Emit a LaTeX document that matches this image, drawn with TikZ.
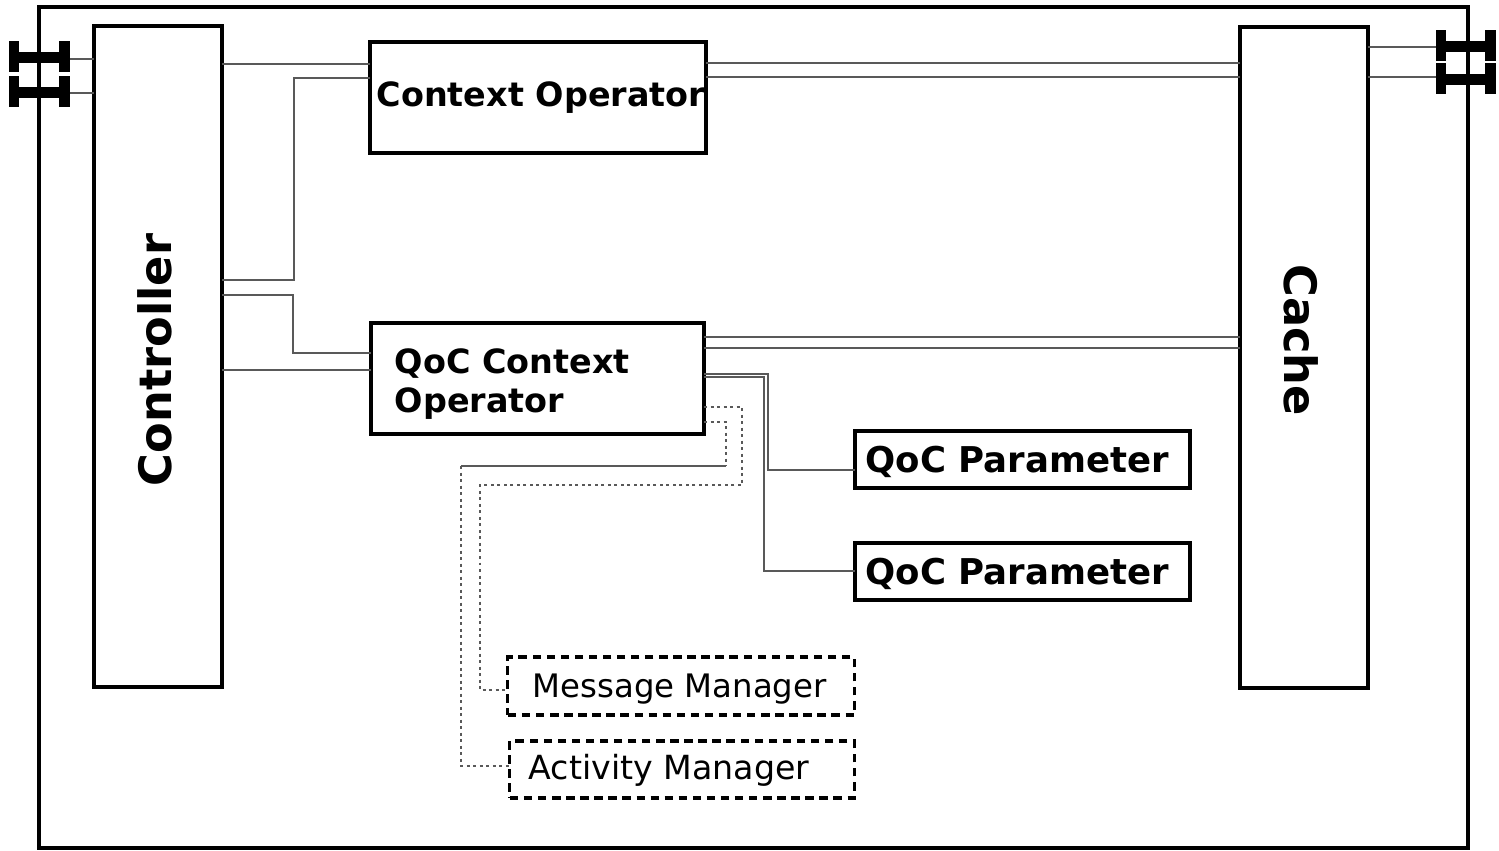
\documentclass[tikz,border=0pt]{standalone}
\usepackage{fontspec}
\setmainfont{DejaVu Sans}
\tikzset{
    box/.style={draw=black,line width=1pt,inner sep=0pt,outer sep=0pt},
    dashbox/.style={box,line width=0.9pt,dash pattern=on 2.4pt off 1.6pt},
    boldlabel/.style={font=\fontsize{9.5}{11.2}\selectfont\bfseries,inner sep=0pt},
    paramlabel/.style={font=\fontsize{10.1}{11.2}\selectfont\bfseries,inner sep=0pt},
    biglabel/.style={font=\fontsize{12.7}{14}\selectfont\bfseries,inner sep=0pt},
    plainlabel/.style={font=\fontsize{9.2}{11.2}\selectfont,inner sep=0pt},
    link/.style={draw=black!65,line width=0.8pt},
    dotlink/.style={link,dash pattern=on 0.85pt off 1pt},
}
\newcommand{\portpair}[5]{%
    \fill (#1,#3-11) rectangle (#1+10,#3+20);
    \fill (#2-11,#3-11) rectangle (#2,#3+20);
    \fill (#1,#3) rectangle (#2,#3+11);
    \fill (#1,#4-11) rectangle (#1+10,#4+20);
    \fill (#2-11,#4-11) rectangle (#2,#4+20);
    \fill (#1,#4) rectangle (#2,#4+11);
}
\begin{document}
\begin{tikzpicture}[x=0.01cm,y=-0.01cm]
    \useasboundingbox (0,0) rectangle (1499,851);
    \draw[line width=1pt](39,7) rectangle (1468,848);

    \node[box,minimum width=1.28cm,minimum height=6.61cm](controller) at (158,356.5){};
    \node[box,minimum width=1.28cm,minimum height=6.61cm](cache) at (1304,357.5){};
    \node[box,minimum width=3.36cm,minimum height=1.11cm](contextop) at (538,97.5){};
    \node[box,minimum width=3.33cm,minimum height=1.11cm](qocop) at (537.5,378.5){};
    \node[box,minimum width=3.35cm,minimum height=0.57cm](paramA) at (1022.5,459.5){};
    \node[box,minimum width=3.35cm,minimum height=0.57cm](paramB) at (1022.5,571.5){};
    \node[dashbox,minimum width=3.46cm,minimum height=0.58cm](message) at (681,686){};
    \node[dashbox,minimum width=3.44cm,minimum height=0.57cm](activity) at (682,769.5){};

    \node[biglabel,rotate=90](controllerlabel) at (155,360){Controller};
    \node[biglabel,rotate=-90](cachelabel) at (1301,340){Cache};
    \node[boldlabel,anchor=base west](contextlabel) at (376,106){Context Operator};
    \node[boldlabel,anchor=base west](qoclabelA) at (394,373){QoC Context};
    \node[boldlabel,anchor=base west](qoclabelB) at (394,412){Operator};
    \node[paramlabel,anchor=base west](paramlabelA) at (865,472){QoC Parameter};
    \node[paramlabel,anchor=base west](paramlabelB) at (865,584){QoC Parameter};
    \node[plainlabel,anchor=base west](messagelabel) at (532,697){Message Manager};
    \node[plainlabel,anchor=base west,font=\fontsize{9.45}{11.2}\selectfont](activitylabel) at (528,779){Activity Manager};

    % ports
    \portpair{9}{70}{52}{87}{}
    \portpair{1436}{1496}{41}{74}{}
    \coordinate (portA) at (70,59);
    \coordinate (portB) at (70,93);
    \coordinate (portC) at (1436,47);
    \coordinate (portD) at (1436,77);

    \draw[link](portA)--(controller.west |- portA);
    \draw[link](portB)--(controller.west |- portB);
    \draw[link](portC)--(cache.east |- portC);
    \draw[link](portD)--(cache.east |- portD);

    \draw[link](controller.east |- 0,64)--(contextop.west |- 0,64);
    \draw[link](controller.east |- 0,280)--(294,280)--(294,78)--(contextop.west |- 0,78);
    \draw[link](controller.east |- 0,295)--(293,295)--(293,353)--(qocop.west |- 0,353);
    \draw[link](controller.east |- 0,370)--(qocop.west |- 0,370);

    \draw[link](contextop.east |- 0,63)--(cache.west |- 0,63);
    \draw[link](contextop.east |- 0,77)--(cache.west |- 0,77);
    \draw[link](qocop.east |- 0,337)--(cache.west |- 0,337);
    \draw[link](qocop.east |- 0,348)--(cache.west |- 0,348);

    \draw[link](qocop.east |- 0,374)--(768,374)--(768,470)--(paramA.west |- 0,470);
    \draw[link](qocop.east |- 0,377)--(764,377)--(764,571)--(paramB.west |- 0,571);

    \draw[dotlink](qocop.east |- 0,407)--(742,407)--(742,485)--(480,485)--(480,690)--(message.west |- 0,690);
    \draw[dotlink](qocop.east |- 0,422)--(726,422)--(726,466);
    \draw[link](726,466)--(461,466);
    \draw[dotlink](461,466)--(461,766)--(activity.west |- 0,766);
\end{tikzpicture}
\end{document}
